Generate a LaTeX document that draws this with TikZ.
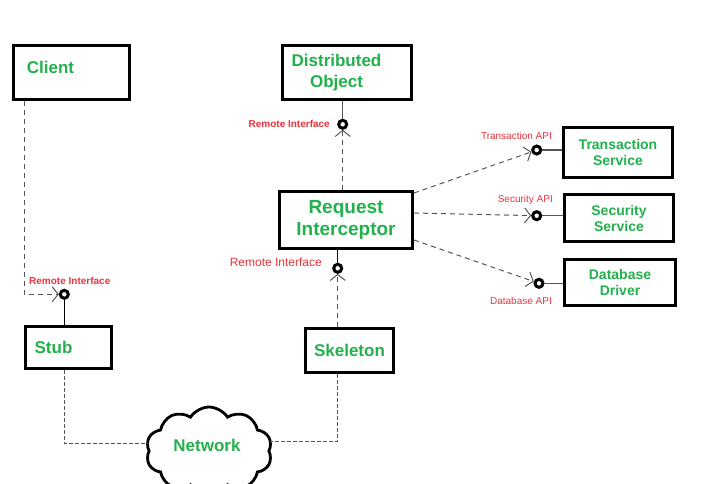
\documentclass[tikz,border=0pt]{standalone}
\usepackage{fontspec}
\setmainfont{Liberation Sans}
\usepackage{xcolor}
\usepackage{tikz}
\usetikzlibrary{arrows.meta,shapes.symbols}

\definecolor{txtgreen}{RGB}{34,177,76}
\definecolor{ifred}{RGB}{235,50,60}
\definecolor{lnkgray}{RGB}{85,85,85}

\begin{document}
\begin{tikzpicture}[x=1pt,y=-1pt,
        box/.style={draw, line width=3pt, fill=white, inner sep=0pt},
        boxname/.style={text=txtgreen, font=\fontsize{17}{21}\selectfont\bfseries, align=center},
        bigname/.style={text=txtgreen, font=\fontsize{19}{22}\selectfont\bfseries, align=center},
        svcname/.style={text=txtgreen, font=\fontsize{14}{16}\selectfont\bfseries, align=center},
        lolli/.style={circle, draw, line width=3pt, fill=white, minimum size=8pt, inner sep=0pt},
        iflabel/.style={text=ifred, font=\fontsize{10}{12}\selectfont, inner sep=0pt},
        dep/.style={draw=lnkgray, line width=1pt, dash pattern=on 5pt off 4pt,
            -{Straight Barb[length=6pt,width=15pt]}},
        wire/.style={draw=lnkgray, line width=1pt, dash pattern=on 4pt off 2pt}]
                    \useasboundingbox (0,0) rectangle (723,483);

                    % boxes
                    \node[box, minimum width=116pt, minimum height=54pt] (client) at (71.5,72.5) {};
                    \node[boxname] (client-txt) at (50.5,67) {Client};
                    \node[box, minimum width=129pt, minimum height=54pt] (distobj) at (347,72.5) {};
                    \node[boxname] (distobj-txt) at (336.5,72.5) {Distributed\\Object};
                    \node[box, bigname, minimum width=133pt, minimum height=57pt] (ri) at (346,220) {Request\\Interceptor};
                    \node[box, minimum width=86pt, minimum height=42pt] (stub) at (68.5,347.5) {};
                    \node[boxname] (stub-txt) at (53.5,347) {Stub};
                    \node[box, boxname, minimum width=88pt, minimum height=44pt] (skel) at (349.5,350.5) {Skeleton};
                    \node[box, svcname, minimum width=109pt, minimum height=50pt] (txs) at (618,152.5) {Transaction\\Service};
                    \node[box, svcname, minimum width=109pt, minimum height=47pt] (secs) at (619,218) {Security\\Service};
                    \node[box, svcname, minimum width=111pt, minimum height=46pt] (dbs) at (620,282.5) {Database\\Driver};
                    \node[cloud, draw, line width=2.8pt, fill=white, cloud puffs=10, cloud puff arc=115,
                        cloud ignores aspect, minimum width=126pt, minimum height=88pt, boxname] (net) at (209,451) {};
                    \node[boxname] (net-txt) at (207,445) {Network};

                    % interfaces
                    \node[lolli] (doif) at (342.7,124.3) {};
                    \node[lolli] (stubif) at (64.3,294.3) {};
                    \node[lolli] (riif) at (337.7,268.3) {};
                    \node[lolli] (txapi) at (536.7,150) {};
                    \node[lolli] (secapi) at (536.7,215.7) {};
                    \node[lolli] (dbapi) at (539,283.3) {};

                    \node[iflabel, font=\fontsize{10}{12}\selectfont\bfseries, anchor=east] (doif-lbl) at (330,124) {Remote Interface};
                    \node[iflabel, font=\fontsize{10}{12}\selectfont\bfseries, anchor=west] (stubif-lbl) at (29,281) {Remote Interface};
                    \node[iflabel, font=\fontsize{12}{14}\selectfont, anchor=east] (riif-lbl) at (322,262) {Remote Interface};
                    \node[iflabel, anchor=east] (txapi-lbl) at (552,136) {Transaction API};
                    \node[iflabel, anchor=east] (secapi-lbl) at (553,200) {Security API};
                    \node[iflabel, anchor=east] (dbapi-lbl) at (552,301) {Database API};

                    % provided interfaces
                    \draw[lnkgray, line width=1.5pt] (doif |- distobj.south) -- (doif);
                    \draw[line width=1.5pt] (stubif) -- (stubif |- stub.north);
                    \draw[line width=1.5pt] (riif |- ri.south) -- (riif);
                    \draw[lnkgray, line width=1.5pt] (txapi) -- (txapi -| txs.west);
                    \draw[lnkgray, line width=1.5pt] (secapi) -- (secapi -| secs.west);
                    \draw[lnkgray, line width=1.5pt] (dbapi) -- (dbapi -| dbs.west);

                    % dependencies
                    \draw[dep] ([xshift=12pt]client.south west) |- (stubif);
                    \draw[dep] (doif |- ri.north) -- (doif);
                    \draw[dep] (riif |- skel.north) -- (riif);
                    \draw[dep] ([yshift=-3pt]ri.north east) -- (txapi);
                    \draw[dep] ([yshift=7pt]ri.east) -- (secapi);
                    \draw[dep] ([yshift=-20pt]ri.east) -- (dbapi);

                    % network
                    \draw[wire] (stubif |- stub.south) |- ([yshift=8pt]net.west);
                    \draw[wire] (riif |- skel.south) |- ([yshift=10pt]net.east);
                \end{tikzpicture}
\end{document}
